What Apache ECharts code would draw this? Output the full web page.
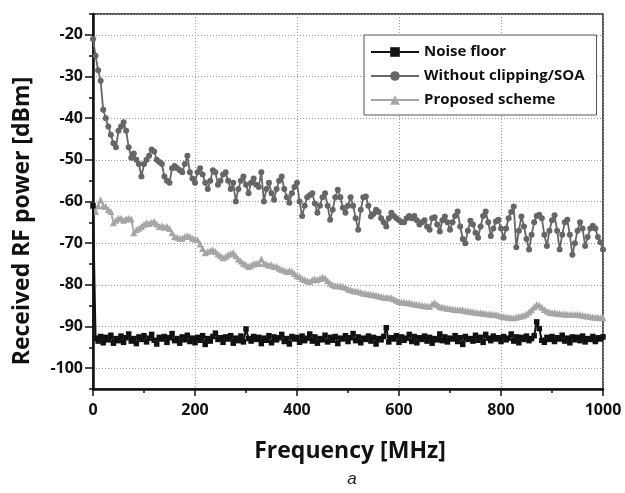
<!DOCTYPE html>
<html>
<head>
<meta charset="utf-8">
<script src="https://cdn.jsdelivr.net/npm/echarts@6/dist/echarts.min.js"></script>
<style>
html,body{margin:0;padding:0;background:#fff;}
#chart{width:625px;height:493px;}
</style>
</head>
<body>
<div id="chart"></div>
<script>
// Frequency grid (MHz), 5 MHz spacing from 0 to 1000
var freqStart = 0, freqStep = 5, freqCount = 201;
var freq = [];
for (var i = 0; i < freqCount; i++) freq.push(freqStart + i * freqStep);

var seriesNames = ['Noise floor', 'Without clipping/SOA', 'Proposed scheme'];
var xTicks = [0, 200, 400, 600, 800, 1000];
var yTicks = [-100, -90, -80, -70, -60, -50, -40, -30, -20];

var noiseFloor = [
-61, -92.8, -93.5, -92.4, -93.9, -92.6, -93.2, -92.1, -94, -92.9,
-93.4, -92.3, -93.8, -92.7, -91.8, -93.5, -92.9, -94.1, -92.5, -93.1,
-92.2, -93.7, -92.8, -91.9, -93.3, -94.2, -92.6, -93, -92.4, -93.8,
-92.7, -91.7, -93.4, -92.9, -94, -92.5, -93.2, -92.1, -93.6, -92.8,
-93.9, -92.6, -93.3, -92.2, -94.3, -92.9, -93.5, -92.4, -91.6, -93.1,
-92.7, -93.8, -92.5, -93, -92.2, -94, -92.8, -93.4, -92.3, -93.7,
-90.6, -92.9, -93.5, -92.4, -93.1, -92.6, -94.1, -92.8, -93.3, -92.2,
-93.9, -92.5, -93.2, -92.7, -91.9, -93.6, -92.9, -94.2, -92.4, -93,
-92.6, -93.8, -92.3, -93.4, -92.8, -91.8, -93.5, -92.5, -94, -92.9,
-93.2, -92.1, -93.7, -92.6, -93.3, -92.4, -94.1, -92.8, -93, -92.2,
-93.6, -92.7, -91.7, -93.4, -92.5, -93.9, -92.8, -93.1, -92.3, -93.5,
-92.6, -94.2, -92.9, -93.2, -92.4, -90.3, -93.7, -92.7, -93, -92.2,
-93.8, -92.5, -93.3, -92.8, -91.9, -93.6, -92.4, -93.9, -92.7, -93.1,
-92.3, -93.5, -92.6, -94, -92.9, -93.2, -91.8, -93.4, -92.5, -93.7,
-92.8, -93, -92.2, -93.6, -92.7, -94.3, -92.4, -93.1, -92.9, -93.5,
-92.1, -93.3, -92.6, -93.8, -91.9, -92.8, -93.4, -92.3, -93, -92.7,
-93.6, -92.4, -93.2, -92.8, -91.8, -93.5, -92.5, -93.9, -92.6, -93.1,
-92.3, -93.4, -92.9, -92.2, -88.9, -90.5, -93.3, -93.8, -92.6, -93.1,
-92.4, -93.6, -92.7, -93, -92.1, -93.5, -92.8, -93.9, -92.5, -93.2,
-92.6, -93.4, -92.3, -93.7, -92.9, -93.1, -92.4, -93.6, -92.7, -93,
-92.5
];

var withoutClipping = [
-21, -25, -28.5, -31, -38, -40, -42, -44, -46, -47,
-43, -42, -41, -43, -47, -49.5, -48.5, -50, -51, -54,
-51, -50, -49, -47.5, -48, -50, -50.5, -51, -54, -55,
-55.5, -52, -51.5, -52, -52.5, -53, -51, -49, -53, -54.5,
-55.5, -53, -52, -53.5, -55.5, -57, -55, -52.5, -53, -56,
-55, -53.5, -53, -55, -57, -55.5, -60, -57, -55, -54,
-56, -58, -55.5, -54.5, -56, -56.5, -53, -60, -57, -55.5,
-58, -59.6, -57, -55, -54, -57, -59, -60.3, -58, -56.5,
-55.5, -60, -63.5, -61, -59, -58.5, -58, -60.5, -62.7, -61,
-59, -58, -61, -64.4, -62, -59, -57.2, -59, -61.5, -62.7,
-61, -59, -61, -64, -66.8, -62, -59, -58.8, -61, -63.6,
-63, -62, -62.5, -64, -65, -66, -64, -62.7, -63.5, -64,
-64.5, -65, -65, -64, -63.5, -64, -63.5, -64.5, -65.5, -65,
-64.5, -66, -66.8, -64, -63.8, -65.5, -67.2, -64.5, -63.6, -65,
-66.8, -65, -63.5, -62.4, -66, -69, -70, -67, -64.6, -65.5,
-67.5, -68.7, -66, -63.5, -62.4, -65, -68.3, -66.5, -64.8, -64.4,
-66.5, -68.7, -66.5, -64, -62.5, -61.2, -71, -67, -63.6, -66,
-69, -71.5, -68, -65, -63.5, -63.2, -64, -68, -70.7, -67,
-64.5, -63.3, -67, -71.5, -68, -65, -64.4, -68, -72.8, -70,
-67, -65, -66.5, -70.7, -68.5, -66.5, -65.8, -66.5, -68.5, -69.8,
-71.5
];

var proposedScheme = [
-61, -62.4, -61, -59.6, -61, -61.2, -62, -62.4, -65.1, -64.5,
-64, -64, -64.5, -64.2, -64, -64.2, -67.5, -66.8, -66.4, -66,
-65.5, -65.1, -65.3, -65, -64.8, -65.4, -66, -65.8, -66.2, -66,
-66.5, -67.5, -68.4, -68.6, -68.8, -68.8, -68.4, -68.2, -68.4, -68.8,
-69, -69.2, -70.2, -71.3, -72.3, -72, -71.8, -71.6, -72, -72.6,
-73, -73.5, -73.2, -72.8, -72.5, -72.3, -73, -73.8, -74.3, -74.8,
-75.2, -75.6, -75.3, -75, -74.8, -74.9, -73.8, -74.8, -75, -75.3,
-75.2, -75.6, -75.6, -76, -76.3, -76.5, -76.8, -76.6, -76.8, -77.3,
-77.8, -78, -78.5, -78.8, -79, -79.2, -78.8, -78.6, -78.8, -78.5,
-78.2, -78.4, -79, -79.6, -80, -80.2, -80.2, -80.3, -80.4, -80.6,
-81, -81.2, -81.4, -81.5, -81.6, -81.8, -82, -82.1, -82.2, -82.3,
-82.4, -82.5, -82.7, -82.8, -83, -83, -83.1, -83.1, -83.4, -83.7,
-84, -84.1, -84.2, -84.3, -84.3, -84.5, -84.6, -84.7, -84.8, -84.9,
-85, -85.1, -85.2, -84.6, -84.3, -84.8, -85.2, -85.4, -85.5, -85.6,
-85.7, -85.8, -85.9, -86, -86, -86, -86.2, -86.3, -86.4, -86.5,
-86.6, -86.7, -86.7, -86.8, -86.9, -87, -87, -87.1, -87.1, -87.3,
-87.5, -87.6, -87.7, -87.8, -87.9, -87.9, -87.8, -87.6, -87.5, -87.3,
-87, -86.5, -86, -85.3, -84.7, -84.9, -85.4, -85.9, -86.3, -86.6,
-86.7, -86.7, -86.8, -86.9, -87, -87, -87.1, -87.1, -87.1, -87.1,
-87.1, -87.2, -87.3, -87.4, -87.5, -87.6, -87.7, -87.8, -87.8, -87.9,
-87.9
];

function pairs(vals) {
  var out = [];
  for (var i = 0; i < vals.length; i++) out.push([freq[i], vals[i]]);
  return out;
}

var FONT = '"Open Sans", "DejaVu Sans", sans-serif';
var chart = echarts.init(document.getElementById('chart'), null, {renderer: 'canvas'});

var option = {
  animation: false,
  backgroundColor: '#fff',
  grid: {
    left: 93, right: 22, top: 14, bottom: 104,
    show: true, borderColor: '#222', borderWidth: 1.5, backgroundColor: 'transparent'
  },
  legend: {
    orient: 'vertical',
    left: 364, top: 35,
    padding: [8, 12, 6, 6],
    itemGap: 6,
    itemWidth: 48, itemHeight: 12,
    backgroundColor: '#fff',
    borderColor: '#555', borderWidth: 1,
    data: seriesNames,
    textStyle: {fontFamily: FONT, fontWeight: 'bold', fontSize: 15, color: '#111', lineHeight: 18}
  },
  xAxis: [{
    type: 'value', min: xTicks[0], max: xTicks[xTicks.length - 1], interval: 200,
    axisLine: {lineStyle: {color: '#111', width: 2.5}},
    axisTick: {show: true, inside: false, length: 7, lineStyle: {color: '#111', width: 1.5}},
    minorTick: {show: true, splitNumber: 2, length: 4, lineStyle: {color: '#111', width: 1.5}},
    axisLabel: {fontFamily: FONT, fontWeight: 'bold', fontSize: 16, color: '#111', margin: 13,
      formatter: function (v) { return String(v); }},
    splitLine: {show: true, lineStyle: {color: '#999', width: 1, type: [1, 2]}}
  }],
  yAxis: [{
    type: 'value', min: -105, max: -15, splitNumber: 9,
    axisLine: {show: true, lineStyle: {color: '#111', width: 2.5}},
    axisTick: {show: true, inside: false, length: 8, lineStyle: {color: '#111', width: 1.5}},
    axisLabel: {fontFamily: FONT, fontWeight: 'bold', fontSize: 16, color: '#111', margin: 10,
      showMinLabel: false, showMaxLabel: false,
      formatter: function (v) { return yTicks.indexOf(v) >= 0 ? String(v) : ''; }},
    splitLine: {show: true, lineStyle: {color: '#999', width: 1, type: [1, 2]}}
  }, {
    type: 'value', min: -105, max: -15, interval: 5, position: 'left',
    axisLine: {show: false},
    axisTick: {show: true, inside: false, length: 4, lineStyle: {color: '#111', width: 1.5}},
    axisLabel: {show: false},
    splitLine: {show: false}
  }],
  series: [{
    name: seriesNames[1], type: 'line', data: pairs(withoutClipping),
    symbol: 'circle', symbolSize: 6, showAllSymbol: true,
    itemStyle: {color: '#666'}, lineStyle: {color: '#666', width: 1.8}, z: 3
  }, {
    name: seriesNames[2], type: 'line', data: pairs(proposedScheme),
    symbol: 'triangle', symbolSize: 7, showAllSymbol: true,
    itemStyle: {color: '#a6a6a6'}, lineStyle: {color: '#a6a6a6', width: 1.8}, z: 4
  }, {
    name: seriesNames[0], type: 'line', data: pairs(noiseFloor),
    symbol: 'rect', symbolSize: 5.5, showAllSymbol: true,
    itemStyle: {color: '#111'}, lineStyle: {color: '#111', width: 2}, z: 5
  }],
  graphic: [{
    type: 'text',
    x: 22, y: 221, rotation: Math.PI / 2,
    style: {text: 'Received RF power [dBm]', fontFamily: FONT, fontWeight: 'bold', fontSize: 23,
      fill: '#111', align: 'center', verticalAlign: 'middle'}
  }, {
    type: 'text',
    x: 350, y: 451,
    style: {text: 'Frequency [MHz]', fontFamily: FONT, fontWeight: 'bold', fontSize: 23,
      fill: '#111', align: 'center', verticalAlign: 'middle'}
  }, {
    type: 'text',
    x: 352, y: 479,
    style: {text: 'a', fontFamily: '"Liberation Sans", sans-serif', fontStyle: 'italic', fontSize: 17,
      fill: '#222', align: 'center', verticalAlign: 'middle'}
  }]
};
chart.setOption(option);
</script>
</body>
</html>
